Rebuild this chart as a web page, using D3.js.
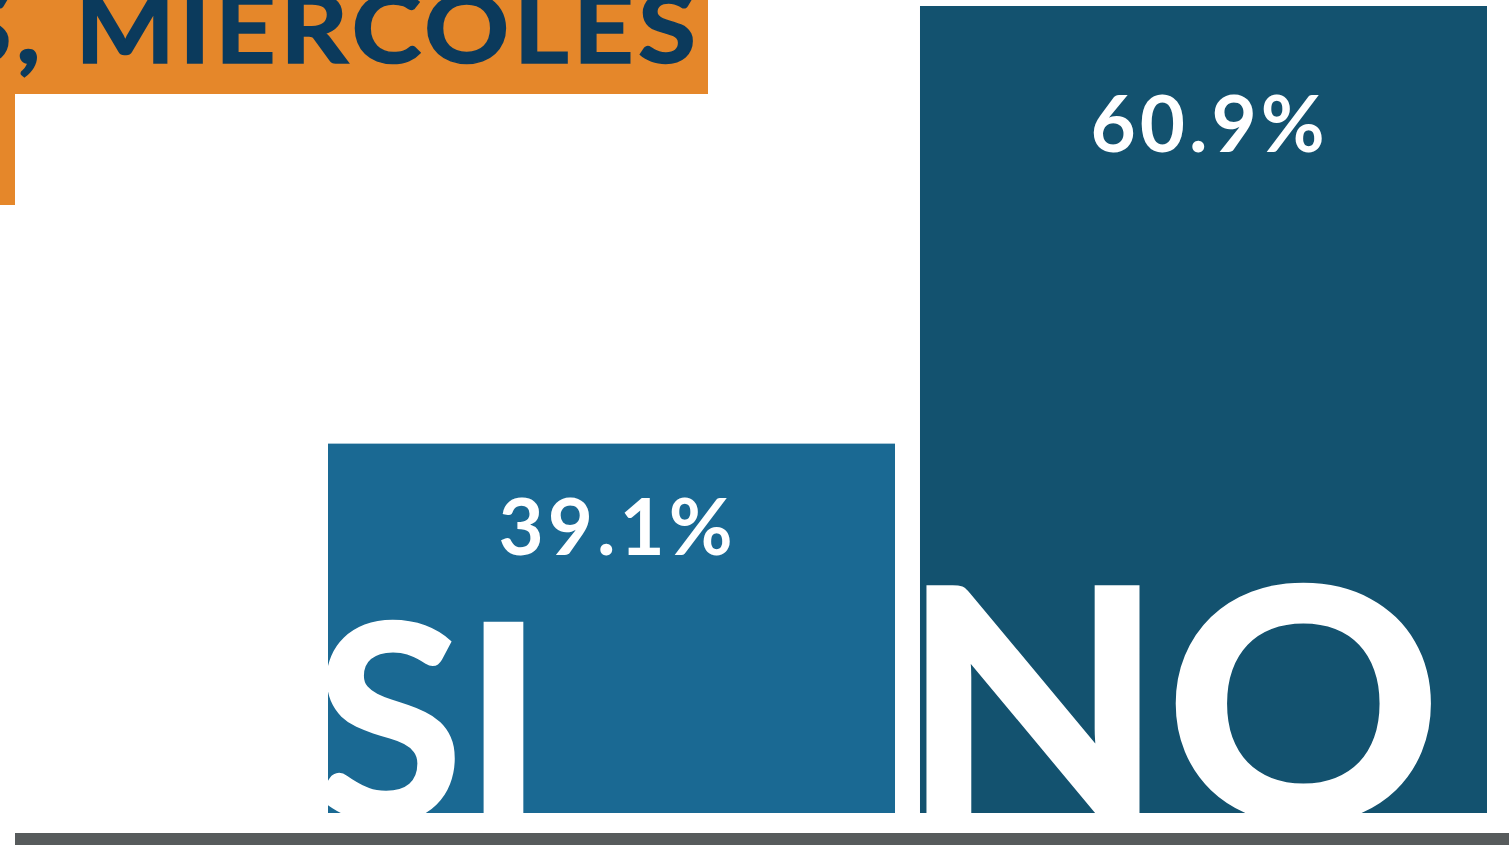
<!DOCTYPE html>
<html>
<head>
<meta charset="utf-8">
<script src="https://cdn.jsdelivr.net/npm/d3@7"></script>
<style>
  html, body { margin: 0; padding: 0; background: #ffffff; overflow: hidden; }
  text { font-family: Lato, "Open Sans", sans-serif; }
</style>
</head>
<body>
<div id="chart"></div>
<script>
// Data
var categories = ["SI", "NO"];
var values = [39.1, 60.9];
var valueLabels = ["39.1%", "60.9%"];
var titleText = "S, MIERCOLES";

// Set up SVG
var svgWidth = 1509;
var svgHeight = 845;

var barColors = ["#1a6993", "#13526f"];

var svg = d3.select("#chart")
    .append("svg")
    .attr("width", svgWidth)
    .attr("height", svgHeight);

// Scales
var xScale = d3.scaleBand()
    .domain(categories)
    .range([328, 1487])
    .paddingInner(0.0422)
    .paddingOuter(0);

var yScale = d3.scaleLinear()
    .domain([20.7, 60.9])
    .range([813, 6]);

// clip paths so the big letters stay inside their bars
var defs = svg.append("defs");
categories.forEach(function(c, i) {
    defs.append("clipPath")
        .attr("id", "clip-" + i)
        .append("rect")
        .attr("x", xScale(c))
        .attr("y", yScale(values[i]))
        .attr("width", xScale.bandwidth())
        .attr("height", yScale.range()[0] - yScale(values[i]));
});

// Bars
var barGroup = svg.append("g");
barGroup.selectAll("rect")
    .data(values)
    .enter()
    .append("rect")
    .attr("x", (d, i) => xScale(categories[i]))
    .attr("y", d => yScale(d))
    .attr("width", xScale.bandwidth())
    .attr("height", d => yScale.range()[0] - yScale(d))
    .attr("fill", (d, i) => barColors[i]);

// Big category letters (wide geometric look -> stretch a bit)
var bigSize = [272, 322];
var bigShift = [-14, -19];
var bigStretch = [1.0, 1.064];
var bigStroke = [3, 4];
var catGroups = barGroup.selectAll("g.cat")
    .data(categories)
    .enter()
    .append("g")
    .attr("class", "cat")
    .attr("clip-path", (d, i) => "url(#clip-" + i + ")");

catGroups.append("text")
    .attr("transform", (d, i) => `translate(${xScale(d) + bigShift[i]}, 820) scale(${bigStretch[i]}, 1)`)
    .attr("font-size", (d, i) => bigSize[i])
    .attr("font-weight", 700)
    .attr("fill", "#ffffff")
    .attr("stroke", "#ffffff")
    .attr("stroke-width", (d, i) => bigStroke[i])
    .text(d => d);

// Value labels
var labelOffset = [111, 146];
barGroup.selectAll("text.val")
    .data(values)
    .enter()
    .append("text")
    .attr("class", "val")
    .attr("x", (d, i) => xScale(categories[i]) + xScale.bandwidth() / 2 + 6)
    .attr("y", (d, i) => yScale(d) + labelOffset[i])
    .attr("text-anchor", "middle")
    .attr("font-size", 78)
    .attr("font-weight", 700)
    .attr("letter-spacing", 4)
    .attr("fill", "#ffffff")
    .text((d, i) => valueLabels[i]);

// Baseline
svg.append("rect")
    .attr("x", 15)
    .attr("y", 833)
    .attr("width", svgWidth - 15)
    .attr("height", 12)
    .attr("fill", "#575b5c");

// Title box (cut off at top left)
svg.append("rect")
    .attr("x", 0)
    .attr("y", 0)
    .attr("width", 708)
    .attr("height", 94)
    .attr("fill", "#e5872a");

svg.append("rect")
    .attr("x", 0)
    .attr("y", 0)
    .attr("width", 15)
    .attr("height", 205)
    .attr("fill", "#e5872a");

svg.append("text")
    .attr("transform", "translate(696, 63) scale(1.1, 1)")
    .attr("text-anchor", "end")
    .attr("font-size", 96)
    .attr("font-weight", 700)
    .attr("letter-spacing", 4)
    .attr("dx", 4)
    .attr("fill", "#0b3a5c")
    .attr("stroke", "#0b3a5c")
    .attr("stroke-width", 1.5)
    .text(titleText);
</script>
</body>
</html>
